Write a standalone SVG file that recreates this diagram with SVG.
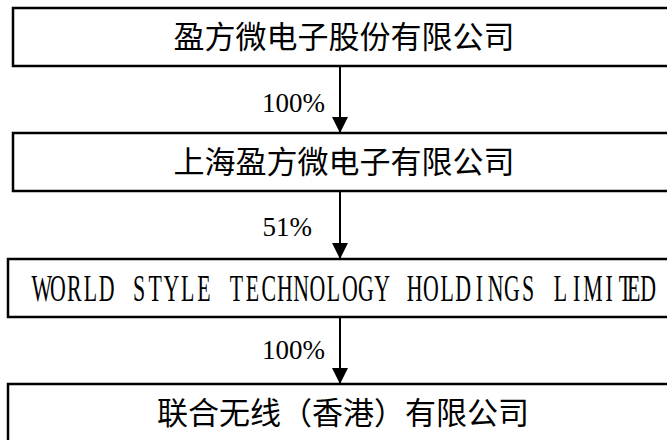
<svg xmlns="http://www.w3.org/2000/svg" width="667" height="440" viewBox="0 0 667 440">
<style>
.box{fill:#fff;stroke:#000;stroke-width:2.5}
.cn{font-family:"Liberation Serif","Noto Sans CJK SC",serif;font-size:31px;fill:#000;text-anchor:middle}
.en{font-family:"Liberation Serif",serif;font-size:38px;fill:#000;text-anchor:middle}
.pct{font-family:"Liberation Serif",serif;font-size:27px;fill:#000;text-anchor:end}
.conn{stroke:#000;stroke-width:2;fill:none}
</style>
<defs>
<marker id="ah" markerUnits="userSpaceOnUse" markerWidth="16" markerHeight="17" refX="15" refY="8" orient="auto" viewBox="0 0 16 16">
<path d="M0,0 L16,8 L0,16 Z" fill="#000"/>
</marker>
</defs>
<g id="n1"><rect class="box" x="13" y="8" width="670" height="58"/><text class="cn" x="344" y="48">盈方微电子股份有限公司</text></g>
<g id="n2"><rect class="box" x="13" y="133" width="670" height="58"/><text class="cn" x="344" y="173">上海盈方微电子有限公司</text></g>
<g id="n3"><rect class="box" x="8" y="259" width="680" height="58"/><text class="en" transform="scale(0.575,1)" y="301" x="72.7 100.9 129.1 157.3 185.5 213.7 241.8 270.0 298.2 326.4 354.6 382.8 411.0 439.2 467.4 495.6 523.7 551.9 580.1 608.3 636.5 664.7 692.9 721.1 749.3 777.5 805.6 833.8 862.0 890.2 918.4 946.6 974.8 1003.0 1031.2 1059.4 1087.5 1115.7">WORLD STYLE TECHNOLOGY HOLDINGS LIMITED</text></g>
<g id="n4"><rect class="box" x="8" y="384" width="680" height="70"/><text class="cn" x="343" y="424">联合无线（香港）有限公司</text></g>
<g id="connectors">
<line class="conn" x1="340" y1="66" x2="340" y2="132" marker-end="url(#ah)"/>
<line class="conn" x1="340" y1="191" x2="340" y2="258" marker-end="url(#ah)"/>
<line class="conn" x1="340" y1="317" x2="340" y2="383" marker-end="url(#ah)"/>
<text class="pct" x="325" y="112">100%</text>
<text class="pct" x="312" y="236">51%</text>
<text class="pct" x="325" y="359">100%</text>
</g>
</svg>
